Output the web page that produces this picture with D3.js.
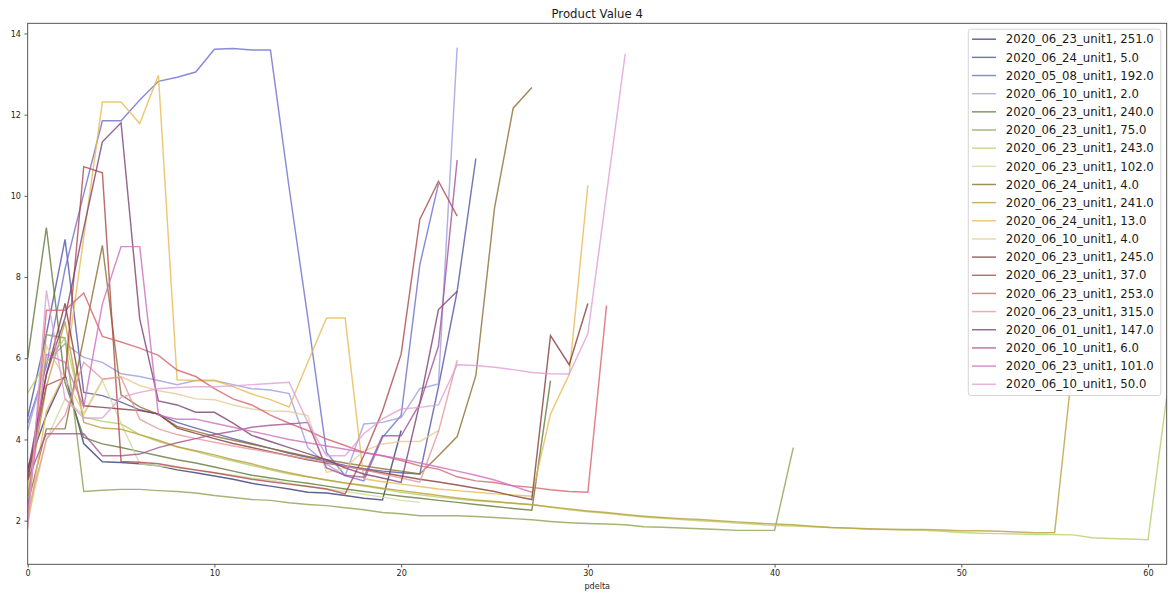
<!DOCTYPE html>
<html>
<head>
<meta charset="utf-8">
<script src="https://cdn.jsdelivr.net/npm/d3@7"></script>
<style>
  html, body { margin: 0; padding: 0; background: #fff; }
  svg { display: block; font-family: "DejaVu Sans", sans-serif; }
</style>
</head>
<body>
<svg id="chart" width="1172" height="596"></svg>
<script>
// Series labels (legend order) and their tab20b colours
const labels = [
  "2020_06_23_unit1, 251.0", "2020_06_24_unit1, 5.0", "2020_05_08_unit1, 192.0", "2020_06_10_unit1, 2.0",
  "2020_06_23_unit1, 240.0", "2020_06_23_unit1, 75.0", "2020_06_23_unit1, 243.0", "2020_06_23_unit1, 102.0",
  "2020_06_24_unit1, 4.0", "2020_06_23_unit1, 241.0", "2020_06_24_unit1, 13.0", "2020_06_10_unit1, 4.0",
  "2020_06_23_unit1, 245.0", "2020_06_23_unit1, 37.0", "2020_06_23_unit1, 253.0", "2020_06_23_unit1, 315.0",
  "2020_06_01_unit1, 147.0", "2020_06_10_unit1, 6.0", "2020_06_23_unit1, 101.0", "2020_06_10_unit1, 50.0"
];
const palette = [
  "#393b79", "#5254a3", "#6b6ecf", "#9c9ede", "#637939", "#8ca252", "#b5cf6b", "#cedb9c",
  "#8c6d31", "#bd9e39", "#e7ba52", "#e7cb94", "#843c39", "#ad494a", "#d6616b", "#e7969c",
  "#7b4173", "#a55194", "#ce6dbd", "#de9ed6"
];

// Product Value 4 per pdelta step (index = pdelta), one array per series
const s251 = [3.3, 4.6, 5.6, 3.9, 3.45, 3.43, 3.4, 3.35, 3.25, 3.18, 3.1, 3.02, 2.92, 2.85, 2.78, 2.7, 2.68, 2.62, 2.55, 2.51, 4.22];
const s5 = [4.55, 6.6, 8.93, 5.16, 5.08, 4.92, 4.73, 4.62, 4.42, 4.28, 4.15, 4.02, 3.9, 3.78, 3.66, 3.56, 3.46, 3.36, 3.28, 3.22, 3.18, 3.15, 5.3, 7.65, 10.92];
const s192 = [4.4, 5.8, 8.2, 10.05, 11.85, 11.85, 12.36, 12.82, 12.92, 13.05, 13.61, 13.63, 13.59, 13.59, 10.2, 7.0, 3.68, 3.11, 2.98, 4.05, 4.59, 8.3, 10.3];
const s2 = [4.22, 5.9, 6.36, 6.02, 5.9, 5.62, 5.55, 5.45, 5.35, 5.45, 5.45, 5.35, 5.25, 5.22, 5.13, 3.8, 3.4, 3.1, 4.38, 4.42, 4.54, 5.25, 5.37, 13.65];
const s240 = [6.0, 9.22, 5.4, 4.05, 3.89, 3.8, 3.7, 3.6, 3.5, 3.42, 3.32, 3.22, 3.12, 3.05, 2.98, 2.92, 2.85, 2.78, 2.72, 2.66, 2.6, 2.55, 2.5, 2.45, 2.4, 2.35, 2.3, 2.26, 5.45];
const s75 = [2.5, 6.58, 6.5, 2.72, 2.75, 2.77, 2.77, 2.74, 2.72, 2.68, 2.62, 2.57, 2.52, 2.5, 2.44, 2.4, 2.37, 2.32, 2.27, 2.2, 2.17, 2.12, 2.12, 2.12, 2.1, 2.08, 2.05, 2.02, 1.98, 1.95, 1.93, 1.92, 1.9, 1.85, 1.84, 1.82, 1.8, 1.78, 1.76, 1.76, 1.76, 3.8];
const s243 = [5.15, 5.9, 6.5, 4.55, 4.45, 4.38, 4.12, 3.95, 3.82, 3.7, 3.58, 3.47, 3.36, 3.25, 3.15, 3.08, 3.0, 2.92, 2.85, 2.78, 2.7, 2.64, 2.58, 2.53, 2.49, 2.46, 2.43, 2.4, 2.33, 2.27, 2.22, 2.18, 2.13, 2.09, 2.06, 2.03, 2.0, 1.97, 1.94, 1.91, 1.88, 1.87, 1.85, 1.83, 1.81, 1.79, 1.78, 1.77, 1.76, 1.74, 1.71, 1.69, 1.68, 1.67, 1.66, 1.66, 1.65, 1.58, 1.56, 1.55, 1.53, 5.05];
const s102 = [2.0, 4.0, 5.0, 4.6, 5.45, 4.4, 3.4, 3.35, 3.3, 3.24, 3.18, 3.12, 3.05, 3.0, 2.92, 2.85, 2.78, 2.72, 2.65, 2.58, 2.5, 2.45];
const s24_4 = [2.4, 4.26, 4.26, 6.5, 8.78, 5.1, 4.8, 4.62, 4.32, 4.2, 4.08, 3.98, 3.88, 3.78, 3.68, 3.58, 3.5, 3.42, 3.35, 3.28, 3.22, 3.15, 3.6, 4.07, 5.57, 9.7, 12.16, 12.67];
const s241 = [2.6, 5.3, 6.9, 4.42, 4.28, 4.25, 4.12, 3.98, 3.82, 3.72, 3.62, 3.5, 3.4, 3.28, 3.18, 3.08, 3.0, 2.93, 2.87, 2.8, 2.74, 2.68, 2.62, 2.56, 2.51, 2.47, 2.43, 2.39, 2.34, 2.29, 2.24, 2.2, 2.15, 2.11, 2.08, 2.05, 2.03, 2.0, 1.97, 1.94, 1.92, 1.9, 1.86, 1.83, 1.82, 1.8, 1.79, 1.78, 1.78, 1.77, 1.75, 1.75, 1.74, 1.72, 1.7, 1.71, 6.0];
const s13 = [1.9, 4.7, 5.63, 8.97, 12.31, 12.31, 11.78, 12.97, 5.47, 5.45, 5.45, 5.3, 5.12, 4.98, 4.8, 5.9, 6.99, 6.99, 3.03, 2.96, 2.9, 2.84, 2.78, 2.74, 2.7, 2.66, 2.63, 2.6, 4.63, 5.6, 10.26];
const s10_4 = [2.8, 6.3, 5.5, 4.65, 5.47, 5.55, 5.33, 5.2, 5.12, 5.0, 4.98, 4.85, 4.75, 4.7, 4.69, 4.59, 3.19, 3.3, 3.72, 3.89, 3.95, 3.95, 4.22];
const s245 = [3.0, 5.6, 7.35, 4.83, 4.79, 4.75, 4.71, 4.63, 4.28, 4.15, 4.02, 3.9, 3.8, 3.7, 3.6, 3.5, 3.42, 3.34, 3.26, 3.18, 3.1, 3.02, 2.95, 2.88, 2.8, 2.72, 2.61, 2.52, 6.56, 5.84, 7.35];
const s37 = [3.1, 5.33, 5.53, 10.72, 10.57, 3.46, 3.44, 3.4, 3.32, 3.25, 3.18, 3.1, 3.02, 2.96, 2.9, 2.84, 2.78, 2.66, 3.6, 4.7, 6.1, 9.42, 10.36, 9.5];
const s253 = [2.0, 7.18, 7.18, 7.61, 6.54, 6.4, 6.25, 6.07, 5.71, 5.55, 5.25, 5.0, 4.85, 4.6, 4.4, 4.22, 4.01, 3.85, 3.68, 3.6, 3.48, 3.35, 3.27, 3.08, 2.98, 2.94, 2.86, 2.82, 2.76, 2.72, 2.7, 7.3];
const s315 = [2.2, 4.0, 4.6, 5.9, 5.49, 5.53, 4.5, 4.26, 4.12, 4.02, 3.93, 3.84, 3.76, 3.68, 3.6, 3.52, 3.43, 3.34, 3.25, 3.15, 3.05, 2.95, 4.2, 5.95];
const s147 = [3.2, 5.6, 7.0, 9.2, 11.33, 11.8, 6.97, 4.95, 4.85, 4.67, 4.67, 4.4, 4.1, 3.95, 3.8, 3.65, 3.5, 3.3, 3.15, 3.05, 2.94, 4.9, 7.2, 7.65];
const s6 = [3.0, 4.14, 4.14, 4.14, 3.6, 3.6, 3.64, 3.8, 3.92, 4.02, 4.12, 4.2, 4.3, 4.35, 4.38, 4.42, 3.3, 3.12, 3.07, 4.09, 4.09, 4.88, 6.3, 10.88];
const s101 = [2.2, 6.1, 5.9, 4.8, 7.34, 8.75, 8.75, 4.6, 4.5, 4.5, 4.4, 4.3, 4.2, 4.1, 4.0, 3.92, 3.84, 3.76, 3.68, 3.6, 3.52, 3.42, 3.32, 3.22, 3.12, 3.0, 2.85, 2.7];
const s50 = [1.8, 7.67, 5.0, 4.53, 4.53, 5.04, 5.16, 5.25, 5.28, 5.3, 5.3, 5.32, 5.35, 5.38, 5.41, 4.42, 3.6, 3.6, 4.14, 4.51, 4.75, 4.79, 4.85, 5.84, 5.82, 5.78, 5.72, 5.65, 5.62, 5.61, 6.6, 10.05, 13.5];

const seriesValues = [s251, s5, s192, s2, s240, s75, s243, s102, s24_4, s241, s13, s10_4,
                      s245, s37, s253, s315, s147, s6, s101, s50];

const xTicks = [0, 10, 20, 30, 40, 50, 60];
const yTicks = [2, 4, 6, 8, 10, 12, 14];

// Layout
const plot = { left: 27.7, right: 1166.7, top: 23.3, bottom: 564.3 };
const svg = d3.select("#chart");

const x = d3.scaleLinear().domain([0, 61]).range([plot.left, plot.right]);
const y = d3.scaleLinear().domain([0.925, 14.25]).range([plot.bottom, plot.top]);

// Lines, clipped to the axes area
svg.append("clipPath").attr("id", "plotclip")
  .append("rect")
  .attr("x", plot.left).attr("y", plot.top)
  .attr("width", plot.right - plot.left).attr("height", plot.bottom - plot.top);

const line = d3.line().x((d, i) => x(i)).y(d => y(d));
svg.append("g")
  .attr("clip-path", "url(#plotclip)")
  .selectAll("path")
  .data(seriesValues)
  .join("path")
  .attr("d", d => line(d))
  .attr("fill", "none")
  .attr("stroke", (d, i) => palette[i])
  .attr("stroke-opacity", 0.8)
  .attr("stroke-width", 1.45)
  .attr("stroke-linejoin", "miter");

// Axes
const axisFont = 8.1;
const xAxis = svg.append("g")
  .attr("transform", `translate(0,${plot.bottom})`)
  .call(d3.axisBottom(x).tickValues(xTicks).tickFormat(d3.format("d")).tickSize(3.2).tickPadding(3));
const yAxis = svg.append("g")
  .attr("transform", `translate(${plot.left},0)`)
  .call(d3.axisLeft(y).tickValues(yTicks).tickFormat(d3.format("d")).tickSize(3.2).tickPadding(3.5));

[xAxis, yAxis].forEach(g => {
  g.select(".domain").remove();
  g.selectAll(".tick line").attr("stroke", "#333").attr("stroke-width", 0.8);
  g.selectAll(".tick text")
    .attr("font-family", "DejaVu Sans")
    .attr("font-size", axisFont)
    .attr("fill", "#262626");
});

// Frame
svg.append("rect")
  .attr("x", plot.left).attr("y", plot.top)
  .attr("width", plot.right - plot.left).attr("height", plot.bottom - plot.top)
  .attr("fill", "none")
  .attr("stroke", "#444")
  .attr("stroke-width", 0.9);

// Title and x label
svg.append("text")
  .attr("x", (plot.left + plot.right) / 2)
  .attr("y", 17.5)
  .attr("text-anchor", "middle")
  .attr("font-size", 11.7)
  .attr("fill", "#1a1a1a")
  .text("Product Value 4");

svg.append("text")
  .attr("x", (plot.left + plot.right) / 2)
  .attr("y", 589)
  .attr("text-anchor", "middle")
  .attr("font-size", axisFont)
  .attr("fill", "#262626")
  .text("pdelta");

// Legend
const lg = { left: 968.3, right: 1160.8, top: 29.2, bottom: 395.5, first: 39.2, step: 18.16 };
const legend = svg.append("g");
legend.append("rect")
  .attr("x", lg.left).attr("y", lg.top)
  .attr("width", lg.right - lg.left).attr("height", lg.bottom - lg.top)
  .attr("rx", 2.5).attr("ry", 2.5)
  .attr("fill", "#fff").attr("fill-opacity", 0.8)
  .attr("stroke", "#d0d0d0").attr("stroke-width", 0.9);

const entries = legend.selectAll("g.entry")
  .data(labels)
  .join("g")
  .attr("class", "entry")
  .attr("transform", (d, i) => `translate(0,${lg.first + i * lg.step})`);

entries.append("line")
  .attr("x1", 972).attr("x2", 996)
  .attr("y1", 0).attr("y2", 0)
  .attr("stroke", (d, i) => palette[i])
  .attr("stroke-opacity", 0.8)
  .attr("stroke-width", 1.45);

entries.append("text")
  .attr("x", 1005.8)
  .attr("y", 4.2)
  .attr("font-size", 11.7)
  .attr("fill", "#1a1a1a")
  .text(d => d);
</script>
</body>
</html>
